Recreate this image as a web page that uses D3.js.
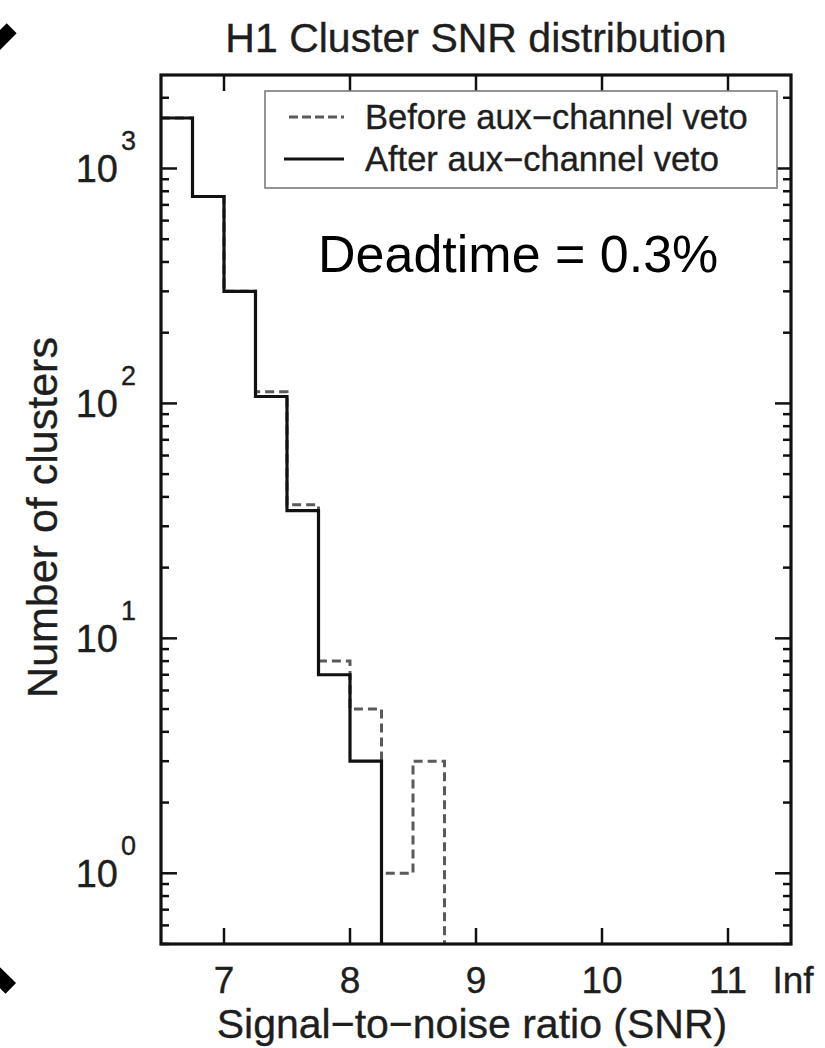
<!DOCTYPE html>
<html>
<head>
<meta charset="utf-8">
<script src="https://cdn.jsdelivr.net/npm/d3@7"></script>
<style>
  html, body { margin: 0; padding: 0; background: #fff; }
  svg { display: block; }
  text { font-family: "Liberation Sans", Arial, Helvetica, sans-serif; fill: #1e1e1e; }
  .scan { stroke: #1e1e1e; stroke-width: 0.35; }
</style>
</head>
<body>
<div id="chart"></div>
<script>
// bin edges of the SNR histogram (last edge closes the last bin)
const binEdges = [6.5, 6.75, 7, 7.25, 7.5, 7.75, 8, 8.25, 8.5, 8.75];
const countsBefore = [1640, 760, 300, 112, 37, 8, 5, 1, 3];
const countsAfter = [1640, 760, 300, 107, 35, 7, 3, 0, 0];

const xTicks = [7, 8, 9, 10, 11];
const xTickLabels = ["7", "8", "9", "10", "11"];
const xEndLabel = "Inf";
const yDecades = [0, 1, 2, 3];

const seriesNames = ["Before aux\u2212channel veto", "After aux\u2212channel veto"];

const width = 825, height = 1048;
const plot = { left: 161, right: 791, top: 75, bottom: 944 };

const svg = d3.select('#chart').append('svg')
  .attr('width', width)
  .attr('height', height);

const x = d3.scaleLinear()
  .domain([6.5, 11.5])
  .range([plot.left, plot.right]);

const y = d3.scaleLog()
  .domain([0.5, 2500])
  .range([plot.bottom, plot.top]);

const yFloor = y.domain()[0];

// corner marks left over from the slide
svg.append('line')
  .attr('x1', 11.7).attr('y1', 28.3).attr('x2', -16).attr('y2', 56)
  .attr('stroke', '#000').attr('stroke-width', 14);
svg.append('line')
  .attr('x1', -16).attr('y1', 962).attr('x2', 10.8).attr('y2', 988.3)
  .attr('stroke', '#000').attr('stroke-width', 15);

// title
svg.append('text')
  .attr('class', 'scan')
  .attr('x', (plot.left + plot.right) / 2)
  .attr('y', 52)
  .attr('text-anchor', 'middle')
  .attr('font-size', 41)
  .text('H1 Cluster SNR distribution');

function stepPoints(counts) {
  // keep bins up to the last non-empty one, then drop to the floor
  let last = counts.length - 1;
  while (last >= 0 && counts[last] <= 0) last--;
  const pts = [];
  for (let i = 0; i <= last; i++) {
    const v = Math.max(counts[i], yFloor);
    pts.push([binEdges[i], v]);
    pts.push([binEdges[i + 1], v]);
  }
  pts.push([binEdges[last + 1], yFloor]);
  return pts;
}

const line = d3.line()
  .x(function(d) { return x(d[0]) })
  .y(function(d) { return y(d[1]) });

const histLayer = svg.append('g');

histLayer.append('path')
  .attr('d', line(stepPoints(countsBefore)))
  .attr('fill', 'none')
  .attr('stroke', '#5a5a5a')
  .attr('stroke-width', 3)
  .attr('stroke-dasharray', '9,5');

histLayer.append('path')
  .attr('d', line(stepPoints(countsAfter)))
  .attr('fill', 'none')
  .attr('stroke', '#111')
  .attr('stroke-width', 3.2);

// ticks, all pointing inwards
const tickLayer = svg.append('g')
  .attr('stroke', '#111')
  .attr('stroke-width', 2.5);

const majorLen = 16, minorLen = 8;

xTicks.forEach(function(t) {
  tickLayer.append('line')
    .attr('x1', x(t)).attr('x2', x(t))
    .attr('y1', plot.bottom).attr('y2', plot.bottom - majorLen);
  tickLayer.append('line')
    .attr('x1', x(t)).attr('x2', x(t))
    .attr('y1', plot.top).attr('y2', plot.top + majorLen);
});

const yMinor = [];
for (let k = -1; k <= 3; k++) {
  for (let m = 2; m <= 9; m++) {
    const v = m * Math.pow(10, k);
    if (v >= y.domain()[0] && v <= y.domain()[1]) yMinor.push(v);
  }
}

function yTick(v, len) {
  tickLayer.append('line')
    .attr('x1', plot.left).attr('x2', plot.left + len)
    .attr('y1', y(v)).attr('y2', y(v));
  tickLayer.append('line')
    .attr('x1', plot.right).attr('x2', plot.right - len)
    .attr('y1', y(v)).attr('y2', y(v));
}
yDecades.forEach(function(k) { yTick(Math.pow(10, k), majorLen) });
yMinor.forEach(function(v) { yTick(v, minorLen) });

// frame
svg.append('rect')
  .attr('x', plot.left).attr('y', plot.top)
  .attr('width', plot.right - plot.left)
  .attr('height', plot.bottom - plot.top)
  .attr('fill', 'none')
  .attr('stroke', '#111')
  .attr('stroke-width', 3.2);

// y tick labels, 10 with a superscript exponent
const yLabels = svg.append('g').selectAll('g')
  .data(yDecades)
  .enter().append('g')
    .attr('transform', function(k) { return 'translate(0,' + y(Math.pow(10, k)) + ')' });

yLabels.append('text')
  .attr('class', 'scan')
  .attr('x', plot.left - 43)
  .attr('y', 14)
  .attr('text-anchor', 'end')
  .attr('font-size', 38)
  .text('10');

yLabels.append('text')
  .attr('class', 'scan')
  .attr('x', plot.left - 40)
  .attr('y', -18)
  .attr('font-size', 27)
  .text(function(k) { return k });

// x tick labels
const xLabels = svg.append('g')
  .attr('class', 'scan')
  .attr('text-anchor', 'middle')
  .attr('font-size', 37);

xLabels.selectAll('text')
  .data(xTicks)
  .enter().append('text')
    .attr('x', function(d) { return x(d) })
    .attr('y', 993)
    .text(function(d, i) { return xTickLabels[i] });

xLabels.append('text')
  .attr('x', x.range()[1] + 2)
  .attr('y', 993)
  .text(xEndLabel);

// axis titles
svg.append('text')
  .attr('class', 'scan')
  .attr('x', (plot.left + plot.right) / 2 - 4)
  .attr('y', 1038)
  .attr('text-anchor', 'middle')
  .attr('font-size', 41)
  .text('Signal\u2212to\u2212noise ratio (SNR)');

svg.append('text')
  .attr('class', 'scan')
  .attr('transform', 'translate(57,' + ((plot.top + plot.bottom) / 2 + 8) + ') rotate(-90)')
  .attr('text-anchor', 'middle')
  .attr('font-size', 43)
  .text('Number of clusters');

// legend
const legend = { left: 265, top: 91, width: 512, height: 97 };
const legendLayer = svg.append('g');

legendLayer.append('rect')
  .attr('x', legend.left).attr('y', legend.top)
  .attr('width', legend.width).attr('height', legend.height)
  .attr('fill', '#fff')
  .attr('stroke', '#7a7a7a')
  .attr('stroke-width', 1.6);

const legendRows = legendLayer.selectAll('g')
  .data(seriesNames)
  .enter().append('g')
    .attr('transform', function(d, i) { return 'translate(0,' + (legend.top + 26 + i * 42) + ')' });

legendRows.append('line')
  .attr('x1', function(d, i) { return i === 0 ? 289 : 284 })
  .attr('x2', 344)
  .attr('stroke', function(d, i) { return i === 0 ? '#5a5a5a' : '#111' })
  .attr('stroke-width', 3)
  .attr('stroke-dasharray', function(d, i) { return i === 0 ? '9,4' : null });

legendRows.append('text')
  .attr('class', 'scan')
  .attr('x', 365)
  .attr('y', 12)
  .attr('font-size', 34.5)
  .text(function(d) { return d });

// annotation
svg.append('text')
  .attr('x', 318)
  .attr('y', 272)
  .attr('font-size', 52)
  .style('fill', '#000')
  .text('Deadtime = 0.3%');
</script>
</body>
</html>
